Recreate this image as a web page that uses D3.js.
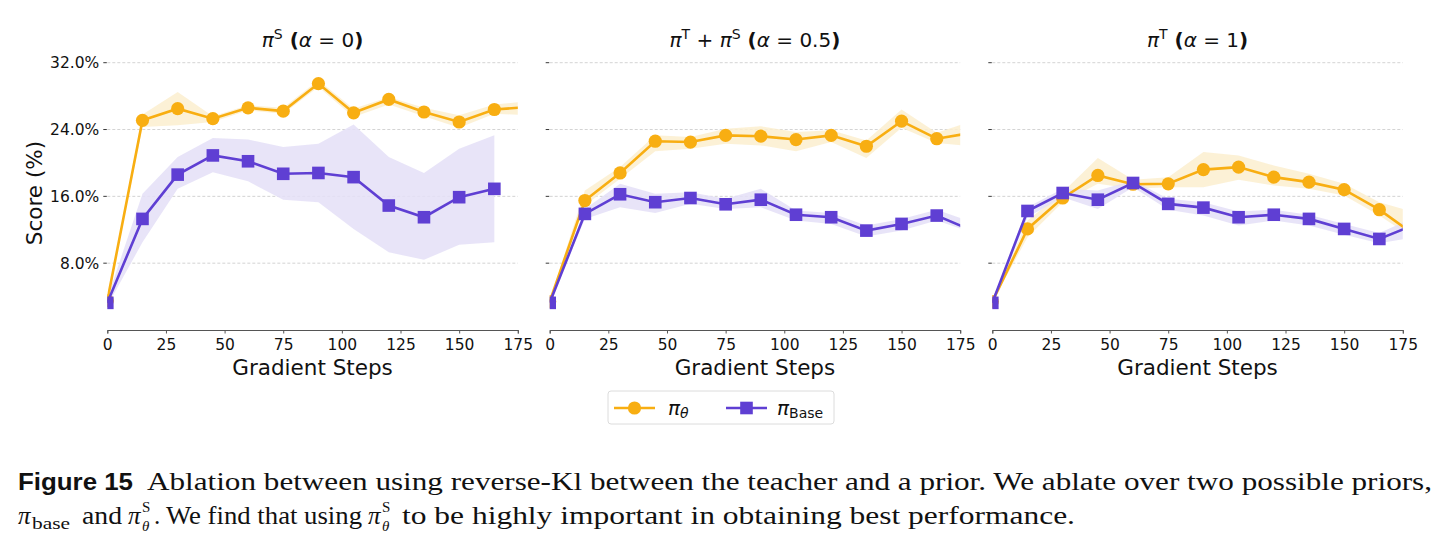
<!DOCTYPE html>
<html lang="en">
<head>
<meta charset="UTF-8">
<title>Figure 15</title>
<script src="https://d3js.org/d3.v7.min.js"></script>
<style>
  body { margin: 0; background: #fff; }
  svg text { font-family: "DejaVu Sans", sans-serif; fill: #111; }
</style>
</head>
<body>
<div class="canvas"></div>
<script>
// ---- data (score %) ----
const steps = [0, 15, 30, 45, 60, 75, 90, 105, 120, 135, 150, 165, 180];
const yTicks = [8, 16, 24, 32];
const xTicks = [0, 25, 50, 75, 100, 125, 150, 175];

// alpha = 0
const thetaA0      = [3.5, 25.1, 26.5, 25.3, 26.6, 26.2, 29.5, 26.0, 27.6, 26.1, 24.9, 26.4, 26.7];
const thetaA0Hi    = [3.6, 25.8, 28.5, 25.6, 26.9, 26.6, 29.9, 26.5, 27.9, 26.6, 25.7, 27.0, 27.4];
const thetaA0Lo    = [3.4, 24.3, 24.5, 24.9, 26.3, 25.9, 29.1, 25.5, 27.0, 25.6, 24.2, 25.9, 25.7];
const baseA0       = [3.25, 13.3, 18.6, 20.9, 20.2, 18.7, 18.8, 18.3, 14.9, 13.5, 15.9, 16.9];
const baseA0Hi     = [3.8, 16.3, 20.7, 23.0, 22.8, 21.9, 22.3, 24.6, 20.7, 18.8, 21.7, 23.3];
const baseA0Lo     = [2.9, 10.5, 16.9, 18.9, 17.8, 15.6, 15.3, 12.1, 9.3, 8.4, 10.2, 10.5];

// alpha = 0.5
const thetaA05     = [3.4, 15.5, 18.8, 22.6, 22.5, 23.3, 23.2, 22.8, 23.3, 22.0, 25.0, 22.9, 23.6];
const thetaA05Hi   = [3.5, 16.7, 19.5, 23.3, 23.1, 24.1, 24.4, 23.7, 23.9, 22.7, 26.4, 23.6, 25.0];
const thetaA05Lo   = [3.3, 14.9, 18.1, 21.4, 21.7, 22.3, 22.1, 21.4, 22.5, 20.6, 24.2, 22.4, 22.0];
const baseA05      = [3.25, 13.9, 16.25, 15.3, 15.8, 15.05, 15.6, 13.8, 13.5, 11.9, 12.7, 13.7, 11.9];
const baseA05Hi    = [3.4, 14.5, 17.5, 16.3, 16.5, 15.7, 16.9, 14.3, 14.0, 12.5, 13.3, 14.4, 12.9];
const baseA05Lo    = [3.1, 13.3, 14.7, 14.0, 15.1, 14.5, 14.7, 13.1, 12.7, 11.2, 11.9, 13.1, 11.7];

// alpha = 1
const thetaA1      = [3.4, 12.1, 15.8, 18.5, 17.45, 17.5, 19.2, 19.5, 18.3, 17.7, 16.8, 14.4, 11.4];
const thetaA1Hi    = [3.5, 13.1, 16.5, 20.6, 18.0, 18.3, 21.3, 20.9, 19.7, 18.7, 17.5, 15.3, 14.1];
const thetaA1Lo    = [3.3, 11.1, 15.3, 17.5, 16.9, 17.1, 17.1, 18.0, 17.3, 16.9, 16.1, 13.7, 10.9];
const baseA1       = [3.25, 14.25, 16.4, 15.6, 17.6, 15.1, 14.65, 13.5, 13.8, 13.3, 12.1, 10.9, 12.6];
const baseA1Hi     = [3.4, 14.7, 16.9, 16.7, 17.9, 15.7, 15.3, 14.2, 14.4, 13.8, 12.7, 11.6, 13.5];
const baseA1Lo     = [3.1, 13.5, 15.9, 14.5, 17.1, 14.4, 13.7, 12.5, 13.1, 12.5, 11.4, 10.4, 11.1];

const ORANGE = '#f8ae12';
const PURPLE = '#5f3fd3';

const panels = [
  { title: [['π', 'i'], ['S', 'sup'], [' (', 'b'], ['α', 'i'], [' = 0', 'n'], [')', 'b']],
    theta: [thetaA0, thetaA0Hi, thetaA0Lo], base: [baseA0, baseA0Hi, baseA0Lo] },
  { title: [['π', 'i'], ['T', 'sup'], [' + ', 'n'], ['π', 'i'], ['S', 'sup'], [' (', 'b'], ['α', 'i'], [' = 0.5', 'n'], [')', 'b']],
    theta: [thetaA05, thetaA05Hi, thetaA05Lo], base: [baseA05, baseA05Hi, baseA05Lo] },
  { title: [['π', 'i'], ['T', 'sup'], [' (', 'b'], ['α', 'i'], [' = 1', 'n'], [')', 'b']],
    theta: [thetaA1, thetaA1Hi, thetaA1Lo], base: [baseA1, baseA1Hi, baseA1Lo] }
];

const width = 1446, height = 547;
const lefts = [107.3, 549.7, 992.3];
const pw = 410.5;
const plotTop = 62.7, plotBottom = 330;

const svg = d3.select('.canvas').append('svg')
  .attr('width', width).attr('height', height);

const y = d3.scaleLinear().domain([0, 32]).range([plotBottom, plotTop]);

panels.forEach((p, i) => {
  const x = d3.scaleLinear().domain([0, 175]).range([0, pw]);
  const g = svg.append('g').attr('transform', `translate(${lefts[i]},0)`);

  // grid + y ticks
  g.selectAll('.grid').data(yTicks).enter().append('line')
    .attr('x1', 0).attr('x2', pw)
    .attr('y1', d => y(d)).attr('y2', d => y(d))
    .attr('stroke', '#c8c8c8').attr('stroke-width', 0.8)
    .attr('stroke-dasharray', '3,2');
  g.selectAll('.yt').data(yTicks).enter().append('line')
    .attr('x1', -4).attr('x2', -0.5)
    .attr('y1', d => y(d)).attr('y2', d => y(d))
    .attr('stroke', '#222').attr('stroke-width', 0.9);
  if (i === 0) {
    g.selectAll('.yl').data(yTicks).enter().append('text')
      .attr('x', -8).attr('y', d => y(d)).attr('dy', '0.36em')
      .attr('text-anchor', 'end').attr('font-size', 15.5)
      .text(d => d.toFixed(1) + '%');
    svg.append('text')
      .attr('transform', `translate(42,193) rotate(-90)`)
      .attr('text-anchor', 'middle').attr('font-size', 21.5)
      .text('Score (%)');
  }

  // x axis
  const xAxis = d3.axisBottom(x).tickValues(xTicks).tickSize(3.5).tickPadding(5.5);
  const ax = g.append('g').attr('transform', `translate(0,${plotBottom})`).call(xAxis);
  ax.select('.domain').attr('stroke', '#555').attr('stroke-width', 1);
  ax.selectAll('.tick line').attr('stroke', '#555');
  ax.selectAll('.tick text').attr('font-size', 15.5).attr('font-family', '"DejaVu Sans", sans-serif').attr('fill', '#111');
  g.append('text').attr('x', pw / 2).attr('y', 375)
    .attr('text-anchor', 'middle').attr('font-size', 21.5).text('Gradient Steps');

  // title
  const t = g.append('text').attr('x', pw / 2).attr('y', 47)
    .attr('text-anchor', 'middle').attr('font-size', 20);
  p.title.forEach(([s, k], j) => {
    const ts = t.append('tspan').text(s);
    if (k === 'i') ts.attr('font-style', 'italic');
    if (k === 'b') ts.attr('font-weight', 'bold');
    if (k === 'sup') ts.attr('font-size', 14).attr('dy', -8);
    else if (j > 0 && p.title[j - 1][1] === 'sup') ts.attr('dy', 8);
  });

  // clip
  const cid = 'clip' + i;
  g.append('clipPath').attr('id', cid).append('rect')
    .attr('x', 0).attr('y', 0).attr('width', pw).attr('height', plotBottom);
  const plot = g.append('g').attr('clip-path', `url(#${cid})`);

  const series = [
    { d: p.theta, color: ORANGE, fill: '#fcefcf', mark: 'circle' },
    { d: p.base, color: PURPLE, fill: '#e4dff7', mark: 'square' }
  ];
  series.forEach(s => {
    const [v, hi, lo] = s.d;
    const pts = v.map((val, k) => ({ x: steps[k], v: val, hi: hi[k], lo: lo[k] }));
    plot.append('path').datum(pts)
      .attr('fill', s.fill).attr('opacity', 0.85)
      .attr('d', d3.area().x(d => x(d.x)).y0(d => y(d.lo)).y1(d => y(d.hi)));
  });
  series.forEach(s => {
    const [v] = s.d;
    const pts = v.map((val, k) => ({ x: steps[k], v: val }));
    plot.append('path').datum(pts)
      .attr('fill', 'none').attr('stroke', s.color).attr('stroke-width', 2.6)
      .attr('d', d3.line().x(d => x(d.x)).y(d => y(d.v)));
    const mk = pts.filter(d => d.x <= 175);
    if (s.mark === 'circle') {
      plot.selectAll('.c').data(mk).enter().append('circle')
        .attr('cx', d => x(d.x)).attr('cy', d => y(d.v)).attr('r', 6.6)
        .attr('fill', s.color);
    } else {
      plot.selectAll('.s').data(mk).enter().append('rect')
        .attr('x', d => x(d.x) - 6.3).attr('y', d => y(d.v) - 6.3)
        .attr('width', 12.6).attr('height', 12.6)
        .attr('fill', s.color);
    }
  });
});

// legend
const lg = svg.append('g').attr('transform', 'translate(608,391)');
lg.append('rect').attr('width', 226).attr('height', 33).attr('rx', 3)
  .attr('fill', '#fff').attr('stroke', '#dcdcdc').attr('stroke-width', 1);
lg.append('line').attr('x1', 6).attr('x2', 47).attr('y1', 17).attr('y2', 17)
  .attr('stroke', ORANGE).attr('stroke-width', 2.6);
lg.append('circle').attr('cx', 26.5).attr('cy', 17).attr('r', 6.6).attr('fill', ORANGE);
const l1 = lg.append('text').attr('x', 60).attr('y', 24).attr('font-size', 20);
l1.append('tspan').attr('font-style', 'italic').text('π');
l1.append('tspan').attr('font-style', 'italic').attr('font-size', 14).attr('dy', 3).text('θ');
lg.append('line').attr('x1', 118).attr('x2', 159).attr('y1', 17).attr('y2', 17)
  .attr('stroke', PURPLE).attr('stroke-width', 2.6);
lg.append('rect').attr('x', 132.2).attr('y', 10.7).attr('width', 12.6).attr('height', 12.6).attr('fill', PURPLE);
const l2 = lg.append('text').attr('x', 169).attr('y', 24).attr('font-size', 20);
l2.append('tspan').attr('font-style', 'italic').text('π');
l2.append('tspan').attr('font-size', 14).attr('dy', 3).text('Base');

// caption
const serif = '"Liberation Serif", "DejaVu Serif", serif';
const cap = (txt, x, yy, opts = {}) => {
  const el = svg.append('text').attr('x', x).attr('y', yy)
    .style('font-family', opts.family || serif)
    .attr('font-size', opts.size || 25).text(txt);
  if (opts.italic) el.attr('font-style', 'italic');
  if (opts.bold) el.attr('font-weight', 'bold');
  if (opts.len) el.attr('textLength', opts.len).attr('lengthAdjust', 'spacingAndGlyphs');
  return el;
};
cap('Figure 15', 18, 490, { family: '"Liberation Sans", "DejaVu Sans", sans-serif', bold: true, size: 24, len: 115 });
cap('Ablation between using reverse-Kl between the teacher and a prior. We ablate over two possible priors,', 147, 490, { len: 1285 });

cap('π', 18, 524, { italic: true });
cap('base', 32, 529, { size: 17, len: 38 });
cap('and', 82, 524, { len: 40 });
cap('π', 128, 524, { italic: true });
cap('S', 142, 512, { size: 15 });
cap('θ', 142, 531, { size: 15, italic: true });
cap('.', 154, 524);
cap('We find that using', 166, 524, { len: 196 });
cap('π', 368, 524, { italic: true });
cap('S', 382, 512, { size: 15 });
cap('θ', 382, 531, { size: 15, italic: true });
cap('to be highly important in obtaining best performance.', 402, 524, { len: 673 });
</script>
</body>
</html>
